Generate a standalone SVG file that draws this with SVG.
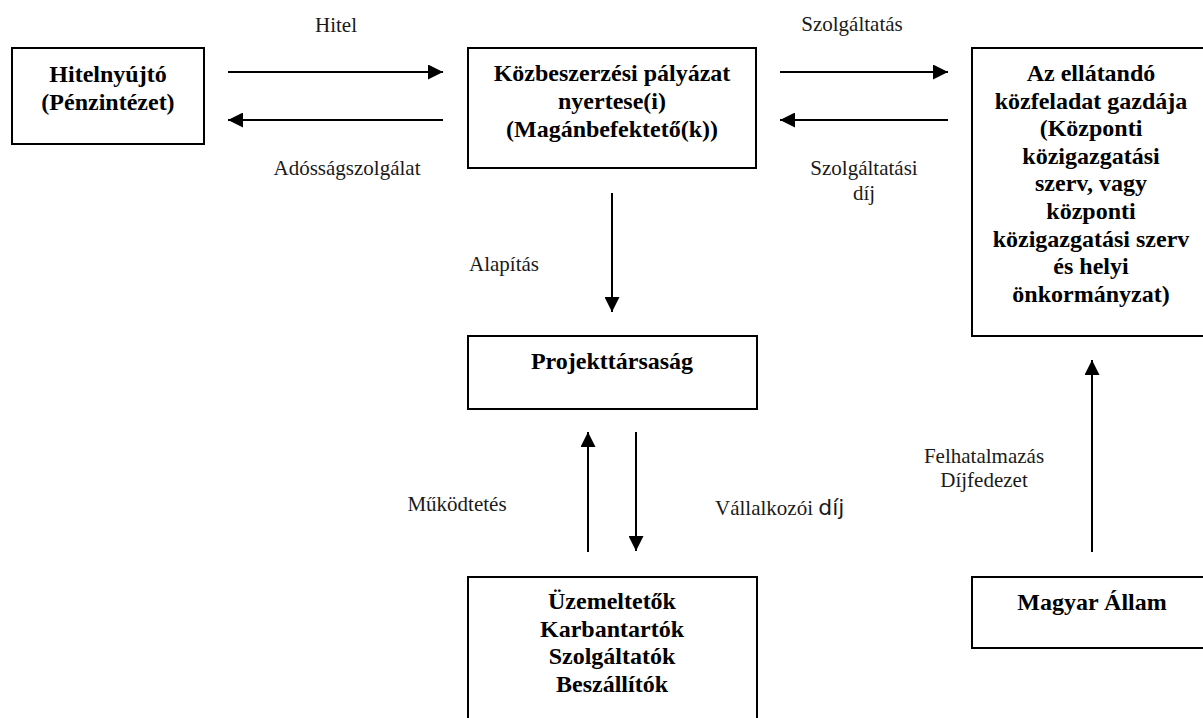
<svg xmlns="http://www.w3.org/2000/svg" width="1203" height="718" viewBox="0 0 1203 718">
<style>
.box{fill:#fff;stroke:#000;stroke-width:2}
.bt{font-family:'Liberation Serif','DejaVu Serif',serif;font-weight:bold;font-size:24px;fill:#000;text-anchor:middle}
.lb{font-family:'Liberation Serif','DejaVu Serif',serif;font-size:21px;fill:#1a1a1a;text-anchor:middle}
.ln{stroke:#000;stroke-width:2;fill:none;marker-end:url(#ah)}
</style>
<defs>
<marker id="ah" viewBox="0 0 15 15" refX="15" refY="7.5" markerWidth="15" markerHeight="15" markerUnits="userSpaceOnUse" orient="auto">
<path d="M0,0 L15,7.5 L0,15 z" fill="#000"/>
</marker>
</defs>
<rect width="1203" height="718" fill="#fff"/>
<g id="connectors">
<line class="ln" x1="228" y1="72" x2="443" y2="72"/>
<line class="ln" x1="443" y1="120" x2="228" y2="120"/>
<line class="ln" x1="780" y1="72" x2="948" y2="72"/>
<line class="ln" x1="948" y1="120" x2="780" y2="120"/>
<line class="ln" x1="612" y1="193" x2="612" y2="312"/>
<line class="ln" x1="588" y1="552" x2="588" y2="432"/>
<line class="ln" x1="636" y1="432" x2="636" y2="551"/>
<line class="ln" x1="1092" y1="552" x2="1092" y2="360"/>
<text class="lb" x="336" y="32">Hitel</text>
<text class="lb" x="347" y="175">Adósságszolgálat</text>
<text class="lb" x="852" y="31">Szolgáltatás</text>
<text class="lb" x="864" y="175">Szolgáltatási</text>
<text class="lb" x="864" y="200">díj</text>
<text class="lb" x="504" y="271">Alapítás</text>
<text class="lb" x="457" y="511">Működtetés</text>
<text class="lb" x="715" y="515" style="text-anchor:start">Vállalkozói <tspan style="font-family:'DejaVu Sans',sans-serif;font-size:22px">díj</tspan></text>
<text class="lb" x="984" y="463">Felhatalmazás</text>
<text class="lb" x="984" y="487">Díjfedezet</text>
</g>
<g id="hitelnyujto">
<rect class="box" x="12" y="48" width="192" height="96"/>
<text class="bt" x="108" y="82">Hitelnyújtó</text>
<text class="bt" x="108" y="110">(Pénzintézet)</text>
</g>
<g id="nyertes">
<rect class="box" x="468" y="48" width="288" height="120"/>
<text class="bt" x="612" y="81">Közbeszerzési pályázat</text>
<text class="bt" x="612" y="109">nyertese(i)</text>
<text class="bt" x="612" y="137">(Magánbefektető(k))</text>
</g>
<g id="gazda">
<rect class="box" x="972" y="48" width="240" height="288"/>
<text class="bt" x="1091" y="81">Az ellátandó</text>
<text class="bt" x="1091" y="108.6">közfeladat gazdája</text>
<text class="bt" x="1091" y="136.2">(Központi</text>
<text class="bt" x="1091" y="163.8">közigazgatási</text>
<text class="bt" x="1091" y="191.4">szerv, vagy</text>
<text class="bt" x="1091" y="219">központi</text>
<text class="bt" x="1091" y="246.6">közigazgatási szerv</text>
<text class="bt" x="1091" y="274.2">és helyi</text>
<text class="bt" x="1091" y="301.8">önkormányzat)</text>
</g>
<g id="projekttarsasag">
<rect class="box" x="468" y="336" width="289" height="73"/>
<text class="bt" x="612" y="369">Projekttársaság</text>
</g>
<g id="uzemeltetok">
<rect class="box" x="468" y="577" width="289" height="160"/>
<text class="bt" x="612" y="609">Üzemeltetők</text>
<text class="bt" x="612" y="637">Karbantartók</text>
<text class="bt" x="612" y="664">Szolgáltatók</text>
<text class="bt" x="612" y="692">Beszállítók</text>
</g>
<g id="magyar-allam">
<rect class="box" x="972" y="577" width="240" height="71"/>
<text class="bt" x="1092" y="610">Magyar Állam</text>
</g>
</svg>
